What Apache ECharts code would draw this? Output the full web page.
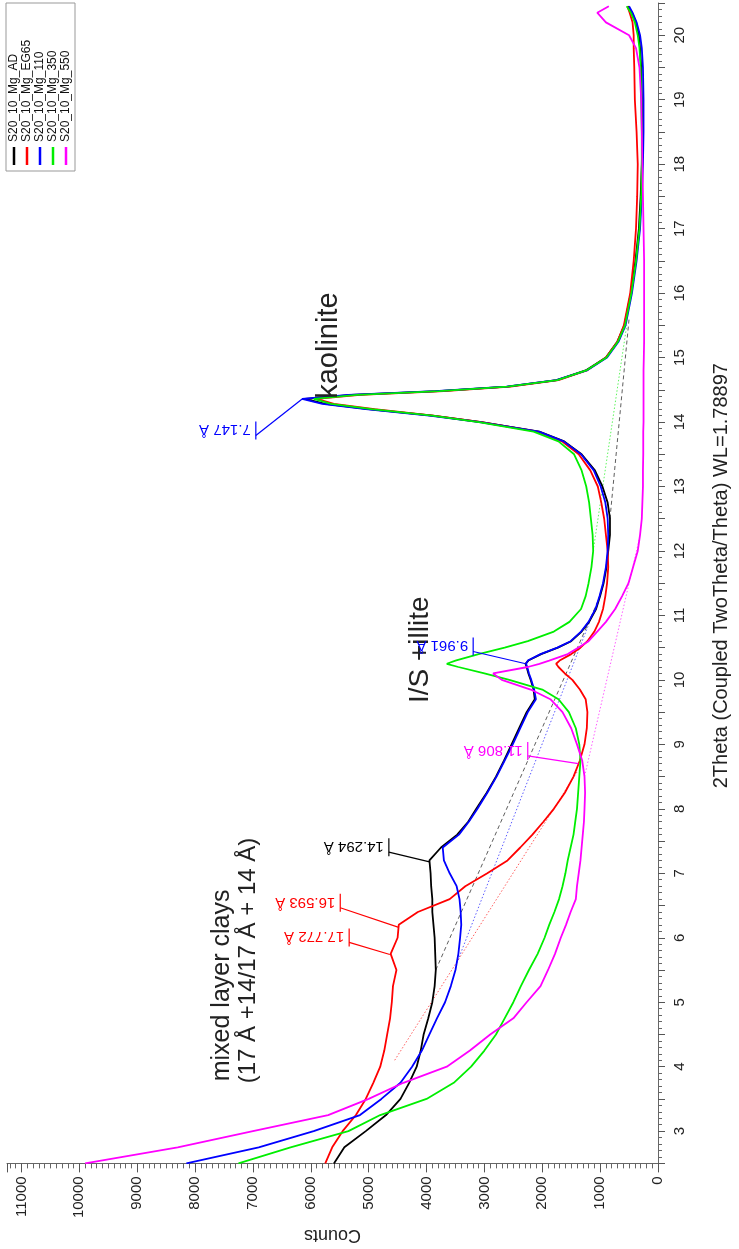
<!DOCTYPE html>
<html><head><meta charset="utf-8">
<script src="https://cdn.jsdelivr.net/npm/echarts@6/dist/echarts.min.js"></script>
<style>html,body{margin:0;padding:0;background:#fff}#c{width:739px;height:1249px}</style>
</head><body><div id="c"></div>
<script>
// 2Theta sampling positions (degrees)
const theta = [
  2.5,2.75,3,3.25,3.5,3.75,4,4.25,4.5,4.75,
  5,5.25,5.5,5.75,6,6.2,6.4,6.6,6.8,7,
  7.2,7.4,7.6,7.8,8,8.25,8.5,8.75,9,9.25,
  9.5,9.7,9.85,10,10.1,10.2,10.25,10.3,10.4,10.5,10.6,
  10.75,10.9,11.1,11.3,11.5,11.75,12,12.25,12.5,12.75,
  13,13.25,13.5,13.7,13.85,14,14.1,14.2,14.28,14.36,
  14.42,14.48,14.55,14.65,14.8,15,15.25,15.5,16,16.5,
  17,17.5,18,18.5,19,19.5,19.8,20,20.2,20.35,20.45
];
// Counts per series (same order as theta)
const countsAD = [
  5600,5420,5050,4700,4450,4300,4170,4100,4050,3970,
  3900,3860,3840,3850,3860,3880,3900,3900,3920,3930,
  3950,3750,3470,3280,3140,2960,2800,2660,2530,2400,
  2270,2130,2150,2200,2240,2270,2290,2240,2020,1730,1500,
  1320,1190,1070,1000,940,890,860,830,830,870,
  960,1090,1320,1620,2050,3050,3900,5000,5750,6100,
  5300,3800,2600,1750,1250,900,700,580,470,390,
  330,300,280,270,280,290,310,330,380,450,520
];
const countsEG65 = [
  5750,5630,5450,5220,5050,4920,4800,4730,4680,4630,
  4600,4580,4520,4620,4500,4480,4150,3600,3330,2950,
  2600,2380,2170,1980,1800,1610,1460,1350,1270,1230,
  1220,1250,1350,1480,1610,1720,1760,1700,1500,1340,1220,
  1100,1020,950,910,880,860,870,900,930,980,
  1040,1170,1370,1660,2080,3050,3880,4900,5600,5900,
  5150,3700,2550,1720,1230,900,700,590,480,420,
  380,360,350,370,400,410,420,420,440,490,530
];
const counts110 = [
  8150,6900,5950,5150,4780,4450,4250,4080,3950,3820,
  3680,3580,3500,3450,3420,3400,3410,3430,3480,3600,
  3700,3720,3440,3270,3120,2950,2790,2650,2510,2380,
  2250,2110,2140,2190,2230,2260,2280,2250,2030,1740,1510,
  1330,1200,1080,1010,950,900,870,860,870,910,
  990,1110,1330,1630,2060,3080,3950,5050,5800,6150,
  5350,3850,2620,1760,1230,880,680,560,450,370,
  310,280,260,250,250,260,280,310,370,440,500
];
const counts350 = [
  7250,6350,5350,4800,4000,3530,3230,3000,2800,2650,
  2500,2370,2230,2080,1960,1880,1790,1710,1650,1600,
  1560,1510,1460,1430,1400,1380,1360,1340,1360,1420,
  1540,1720,2000,2570,3000,3450,3650,3500,3100,2650,2250,
  1800,1530,1330,1250,1200,1150,1120,1130,1160,1190,
  1240,1320,1450,1720,2150,3100,3900,4950,5650,5950,
  5200,3780,2600,1740,1240,890,690,570,460,380,
  320,290,280,280,290,300,320,350,400,470,540
];
const counts550 = [
  9900,8300,7000,5700,5000,4400,3650,3250,2900,2500,
  2270,2030,1900,1780,1680,1590,1510,1420,1400,1370,
  1340,1320,1300,1280,1270,1260,1270,1310,1400,1500,
  1650,1860,2200,2700,2850,2250,2050,1880,1560,1380,1200,
  1050,900,740,620,510,430,350,310,280,270,
  260,260,255,255,255,250,250,250,250,250,
  250,250,250,250,250,245,240,240,240,240,
  250,260,270,280,290,320,380,500,900,1050,850
];
const seriesNames = ['S20_10_Mg_AD','S20_10_Mg_EG65','S20_10_Mg_110','S20_10_Mg_350','S20_10_Mg_550'];
const seriesCounts = [countsAD, countsEG65, counts110, counts350, counts550];
const countTicks = [0,1000,2000,3000,4000,5000,6000,7000,8000,9000,10000,11000];

// background (baseline) segments: series index, start [2theta, counts], end [2theta, counts]
const baseSeries = [0, 0, 2, 1, 3, 4];
const baseFrom = [[5.5,3840],[12.5,830],[5.6,3480],[4.1,4550],[12.0,1120],[8.5,1270]];
const baseTo   = [[11.3,1000],[15.6,500],[11.2,1050],[8.6,1380],[15.5,540],[12.2,320]];

// peak labels: text, series index, touching point [counts, 2theta], label anchor [counts, 2theta]
const peakText = ['14.294 Å','16.593 Å','17.772 Å','11.806 Å','9.961 Å','7.147 Å'];
const peakSeries = [0,1,1,4,2,2];
const peakAt = [[3948,7.176],[4480,6.16],[4634,5.74],[1377,8.70],[2285,10.25],[6144,14.36]];
const peakLabelAt = [[4651,7.328],[5491,6.466],[5337,5.928],[2251,8.82],[3194,10.44],[6950,13.79]];

// phase annotations: text, anchor [counts, 2theta]
const noteText = ['kaolinite','I/S +illite','mixed layer clays','(17 Å +14/17 Å + 14 Å)'];
const noteAt = [[5680,14.36],[4100,9.64],[7530,3.774],[7080,3.743]];

const colors = ['#000000','#ff0000','#0000ff','#00ee00','#ff00ff'];
const FONT = '"Liberation Sans", Arial, sans-serif';
const noteSize = [29,28,25,24];

const chart = echarts.init(document.getElementById('c'), null, {renderer:'canvas'});
const series = seriesCounts.map((arr, k) => ({
  name: seriesNames[k], type: 'line', showSymbol: false, animation: false,
  data: theta.map((t, i) => [arr[i], t]),
  lineStyle: {color: colors[k], width: 1.8}, itemStyle: {color: colors[k]}, z: 3 + k
}));
baseSeries.forEach((k, i) => {
  series.push({
    name: seriesNames[k] + ' background', type: 'line', showSymbol: false, animation: false,
    data: [[baseFrom[i][1], baseFrom[i][0]], [baseTo[i][1], baseTo[i][0]]],
    lineStyle: {color: colors[k], width: 0.8, type: k === 0 ? [4, 3] : [1.5, 2], opacity: 0.8},
    itemStyle: {color: colors[k]}, z: 1
  });
});
chart.setOption({
  animation: false,
  backgroundColor: '#ffffff',
  grid: {left: 7, right: 76, top: 1, bottom: 78},
  xAxis: {
    type: 'value', inverse: true, min: 0, max: 11250, interval: 1000,
    position: 'bottom',
    name: 'Counts', nameLocation: 'middle', nameRotate: 180, nameGap: 48,
    nameTextStyle: {fontFamily: FONT, fontSize: 18, color: '#222'},
    axisLine: {show: true, lineStyle: {color: '#666', width: 1}},
    axisTick: {show: true, length: 9, lineStyle: {color: '#555'}},
    minorTick: {show: true, splitNumber: 10, length: 5, lineStyle: {color: '#666'}},
    splitLine: {show: false},
    axisLabel: {rotate: 90, margin: 13, fontFamily: FONT, fontSize: 15, color: '#222',
      showMaxLabel: false, formatter: v => countTicks.indexOf(v) >= 0 ? String(v) : ''}
  },
  yAxis: {
    type: 'value', min: 2.5, max: 20.5, interval: 0.5, position: 'right',
    name: '2Theta (Coupled TwoTheta/Theta) WL=1.78897', nameLocation: 'middle',
    nameRotate: 90, nameGap: 53,
    nameTextStyle: {fontFamily: FONT, fontSize: 20, color: '#222', padding: [0, 0, 0, 15]},
    axisLine: {show: true, lineStyle: {color: '#666', width: 1}},
    axisTick: {show: true, length: 7, lineStyle: {color: '#555'}},
    minorTick: {show: true, splitNumber: 5, length: 4, lineStyle: {color: '#666'}},
    splitLine: {show: false},
    axisLabel: {rotate: 90, margin: 14, fontFamily: FONT, fontSize: 15, color: '#222',
      formatter: v => (Math.abs(v - Math.round(v)) < 1e-6 ? String(Math.round(v)) : '')}
  },
  series: series
});

const px = p => chart.convertToPixel({xAxisIndex: 0, yAxisIndex: 0}, p);
const g = [];
noteText.forEach((t, i) => {
  const p = px(noteAt[i]);
  g.push({type: 'text', x: p[0], y: p[1], rotation: Math.PI / 2, z: 100,
    style: {text: t, fill: '#222', font: noteSize[i] + 'px ' + FONT,
      textAlign: 'left', textVerticalAlign: 'middle', align: 'left', verticalAlign: 'middle'}});
});
peakText.forEach((t, i) => {
  const c = colors[peakSeries[i]];
  const a = px(peakAt[i]);
  const b = px(peakLabelAt[i]);
  g.push({type: 'line', z: 100, shape: {x1: a[0], y1: a[1], x2: b[0], y2: b[1]}, style: {stroke: c, lineWidth: 1.2}});
  g.push({type: 'line', z: 100, shape: {x1: b[0], y1: b[1] - 14, x2: b[0], y2: b[1] + 4}, style: {stroke: c, lineWidth: 1.2}});
  g.push({type: 'text', x: b[0] - 5, y: b[1] - 6, rotation: Math.PI, z: 100,
    style: {text: t, fill: c, font: '15px ' + FONT,
      textAlign: 'left', textVerticalAlign: 'middle', align: 'left', verticalAlign: 'middle'}});
});
// legend (rotated like the rest of the plot): box, colour swatch, series name
const legX0 = 6, legY0 = 3, legStep = 13, legH = 168;
g.push({type: 'rect', z: 110, shape: {x: legX0, y: legY0, width: legStep * 5 + 4, height: legH},
  style: {fill: '#fff', stroke: '#999', lineWidth: 1}});
seriesNames.forEach((n, k) => {
  const cx = legX0 + 8 + k * legStep;
  const yb = legY0 + legH - 6;
  g.push({type: 'line', z: 111, shape: {x1: cx, y1: yb, x2: cx, y2: yb - 18},
    style: {stroke: colors[k], lineWidth: 2.5}});
  g.push({type: 'text', x: cx, y: yb - 23, rotation: Math.PI / 2, z: 111,
    style: {text: n, fill: '#111', font: '12px ' + FONT,
      textAlign: 'left', textVerticalAlign: 'middle', align: 'left', verticalAlign: 'middle'}});
});
chart.setOption({graphic: g});
</script></body></html>
